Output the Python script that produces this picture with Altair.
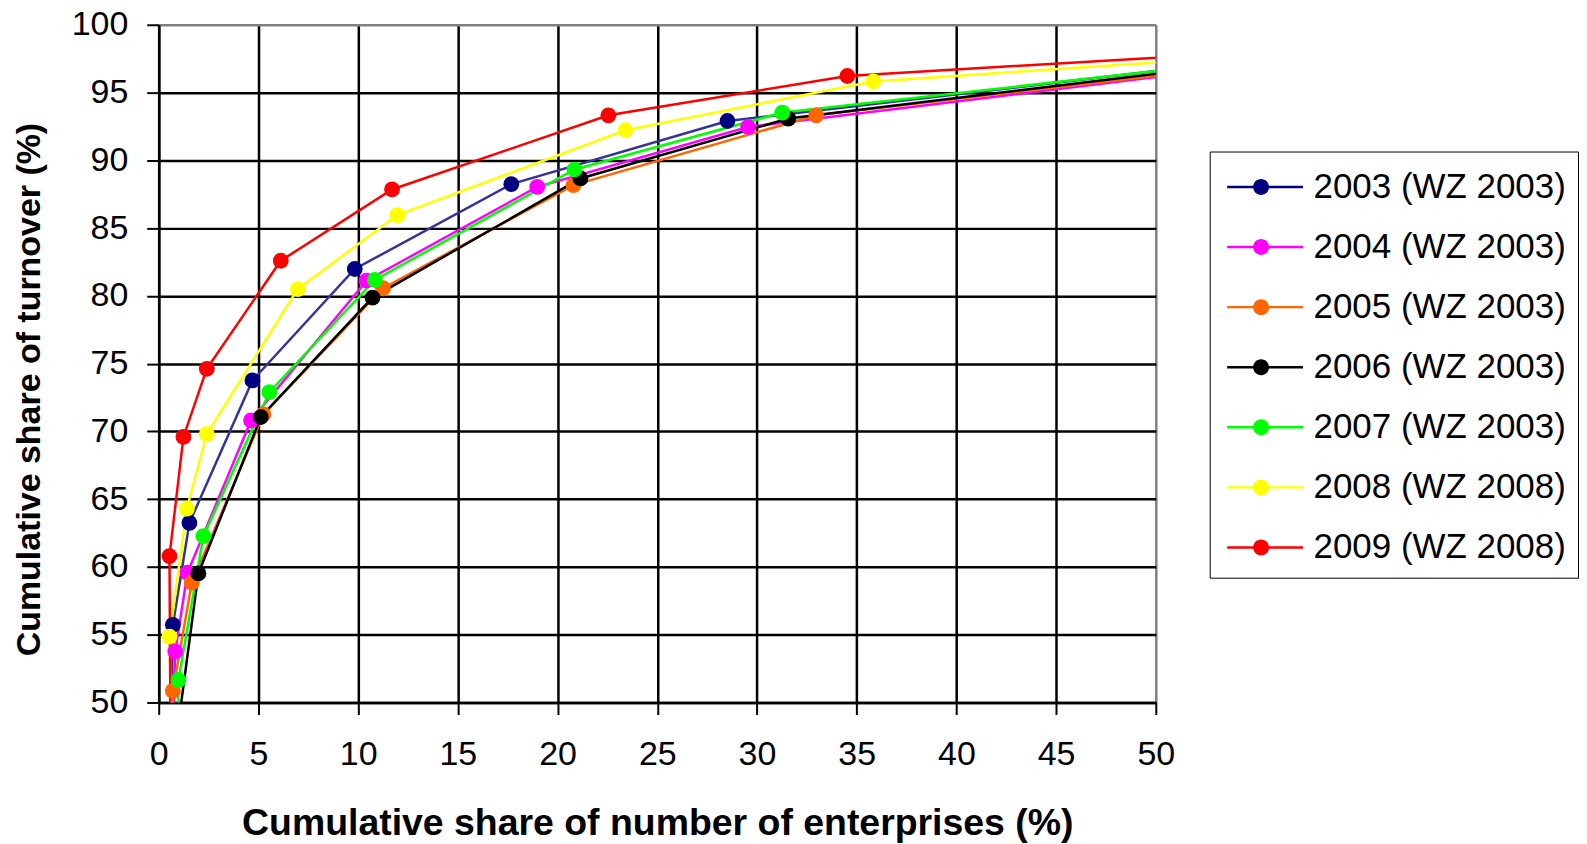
import altair as alt
import pandas as pd

series_names = ["2003 (WZ 2003)", "2004 (WZ 2003)", "2005 (WZ 2003)", "2006 (WZ 2003)",
                "2007 (WZ 2003)", "2008 (WZ 2008)", "2009 (WZ 2008)"]
marker_colors = ["#000080", "#FF00FF", "#FF6600", "#000000", "#00FF00", "#FFFF00", "#FF0000"]
line_colors = ["#333399", "#FF00FF", "#FF6600", "#000000", "#00FF00", "#FFFF00", "#FF0000"]

# cumulative share of enterprises (%) / cumulative share of turnover (%)
x_2003 = [0.55, 0.71, 1.54, 4.70, 9.83, 17.68, 28.52, 55.0]
y_2003 = [40.0, 55.72, 63.25, 73.76, 81.98, 88.24, 92.90, 97.44]
x_2004 = [0.54, 0.83, 1.44, 4.63, 10.42, 18.98, 29.55, 55.0]
y_2004 = [40.0, 53.76, 59.57, 70.81, 81.12, 88.04, 92.46, 97.04]
x_2005 = [0.62, 0.71, 1.66, 5.25, 11.25, 20.80, 32.97, 55.0]
y_2005 = [40.0, 50.85, 58.84, 71.25, 80.56, 88.17, 93.32, 97.10]
x_2006 = [0.68, 1.99, 5.12, 10.72, 21.15, 31.57, 55.0]
y_2006 = [45.0, 59.52, 71.06, 79.87, 88.66, 93.08, 97.29]
x_2007 = [0.95, 0.99, 2.24, 5.55, 10.84, 20.85, 31.27, 55.0]
y_2007 = [40.0, 51.66, 62.27, 72.90, 81.17, 89.32, 93.52, 97.40]
x_2008 = [0.75, 0.54, 1.41, 2.41, 6.97, 11.97, 23.40, 35.83, 55.0]
y_2008 = [40.0, 54.86, 64.30, 69.80, 80.49, 85.96, 92.22, 95.82, 97.71]
x_2009 = [0.62, 0.54, 1.24, 2.41, 6.12, 11.70, 22.55, 34.53, 55.0]
y_2009 = [40.0, 60.80, 69.59, 74.62, 82.59, 87.85, 93.32, 96.22, 98.01]

x_ticks = list(range(0, 51, 5))
y_ticks = list(range(50, 101, 5))

all_x = [x_2003, x_2004, x_2005, x_2006, x_2007, x_2008, x_2009]
all_y = [y_2003, y_2004, y_2005, y_2006, y_2007, y_2008, y_2009]

rows = []
for name, xs, ys in zip(series_names, all_x, all_y):
    for i, (xv, yv) in enumerate(zip(xs, ys)):
        rows.append({"series": name, "line_series": name + " ", "x": xv, "y": yv, "order": i})
df = pd.DataFrame(rows)

FONT = "Liberation Sans"

x_scale = alt.Scale(domain=[0, 50], nice=False, zero=False)
y_scale = alt.Scale(domain=[50, 100], nice=False, zero=False)

x_axis = alt.Axis(
    values=x_ticks, title="Cumulative share of number of enterprises (%)",
    titleFont=FONT, titleFontSize=37.5, titleFontWeight="bold", titleColor="black",
    titleX=499.5, titleY=132, titleBaseline="alphabetic", titleAlign="center",
    labelFont=FONT, labelFontSize=34, labelColor="black", labelPadding=23,
    labelFlush=False, labelOverlap=False,
    tickSize=12, tickWidth=2, tickColor="black",
    domainColor="black", domainWidth=2.5,
    gridWidth=2.5,
    gridColor={"condition": {"test": "datum.value >= 50", "value": "#808080"}, "value": "black"},
)
y_axis = alt.Axis(
    values=y_ticks, title="Cumulative share of turnover (%)",
    titleFont=FONT, titleFontSize=34, titleFontWeight="bold", titleColor="black",
    titleX=-129, titleY=365, titleAngle=270, titleBaseline="middle", titleAlign="center",
    labelFont=FONT, labelFontSize=34, labelColor="black", labelPadding=19,
    labelFlush=False, labelOverlap=False,
    tickSize=12, tickWidth=2, tickColor="black",
    domainColor="black", domainWidth=2.5,
    gridWidth=2.5,
    gridColor={"condition": {"test": "datum.value >= 100", "value": "#808080"}, "value": "black"},
)

symbol_path = ("M-4.25,-0.15 L5.25,-0.15 L5.25,0.15 L-4.25,0.15 Z "
               "M1,0 A1,1 0 1,1 -1,0 A1,1 0 1,1 1,0 Z")

line_domain = [n + " " for n in series_names]

base = alt.Chart(df)

lines = base.mark_line(strokeWidth=2.5, clip=True).encode(
    x=alt.X("x:Q", scale=x_scale, axis=x_axis),
    y=alt.Y("y:Q", scale=y_scale, axis=y_axis),
    stroke=alt.Stroke("line_series:N", scale=alt.Scale(domain=line_domain, range=line_colors), legend=None),
    order="order:Q",
    detail="line_series:N",
)

points = base.mark_circle(size=250, opacity=1, clip=True).encode(
    x=alt.X("x:Q", scale=x_scale),
    y=alt.Y("y:Q", scale=y_scale),
    color=alt.Color(
        "series:N",
        scale=alt.Scale(domain=series_names, range=marker_colors),
        legend=alt.Legend(
            title=" ", titleFontSize=6, titlePadding=0,
            orient="none", legendX=1053, legendY=127,
            symbolType=symbol_path, symbolSize=256, symbolStrokeWidth=0, symbolOpacity=1,
            labelFont=FONT, labelFontSize=35, labelColor="black", labelLimit=500,
            padding=12, rowPadding=24.2, symbolOffset=22, labelOffset=35,
            strokeColor="black", fillColor="white",
        ),
    ),
)

chart = alt.layer(lines, points).resolve_scale(color="independent").properties(
    width=999, height=679,
    padding={"left": 151, "top": 16, "right": 424, "bottom": 141},
    autosize=alt.AutoSizeParams(type="none"),
    background="white",
).configure_view(
    fill="#C0C0C0", stroke="#808080", strokeWidth=2,
).configure(font=FONT)

chart.save("out.html", embed_options={"renderer": "svg", "actions": False})
